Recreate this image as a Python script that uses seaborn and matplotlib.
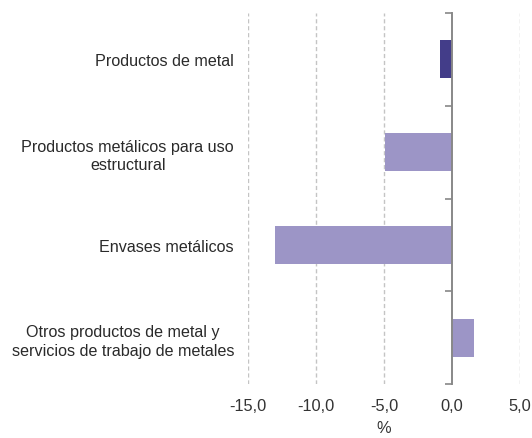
import matplotlib
matplotlib.use("Agg")
import matplotlib.pyplot as plt
import seaborn as sns
import pandas as pd
from matplotlib.ticker import FuncFormatter, FixedLocator

categories = [
    "Productos de metal",
    "Productos metálicos para uso\nestructural",
    "Envases metálicos",
    "Otros productos de metal y\nservicios de trabajo de metales",
]
values = [-0.9, -4.9, -13.0, 1.6]
bar_colors = ["#433D89", "#9C95C6", "#9C95C6", "#9C95C6"]
xticks = [-15, -10, -5, 0, 5]

sns.set_theme(style="white")
plt.rcParams["font.family"] = ["Liberation Sans", "DejaVu Sans"]

df = pd.DataFrame({"cat": categories, "val": values})

fig = plt.figure(figsize=(5.32, 4.39), dpi=100)
ax = fig.add_axes([248 / 532, 1 - 385 / 439, (520 - 248) / 532, (385 - 14) / 439])

sns.barplot(data=df, y="cat", x="val", hue="cat", palette=bar_colors,
            orient="h", width=0.41, legend=False, ax=ax, saturation=1,
            edgecolor="none")

ax.set_xlim(-15, 5)
ax.set_ylim(3.5, -0.5)
ax.set_xticks(xticks)
ax.xaxis.set_major_formatter(FuncFormatter(lambda v, p: f"{v:.1f}".replace(".", ",")))
ax.tick_params(axis="x", length=0, labelsize=11.8, labelcolor="#333333", pad=10)
ax.tick_params(axis="y", length=0, labelsize=11.6, labelcolor="#2a2a2a", pad=10)
for lbl in ax.get_yticklabels():
    lbl.set_linespacing(1.3)
    lbl.set_multialignment("center")
ax.set_xlabel("%", fontsize=11.8, color="#333333", labelpad=5)
ax.set_ylabel("")

for s in ax.spines.values():
    s.set_visible(False)

for t in [-15, -10, -5, 5]:
    ax.axvline(t, color="#c4c4c4", linestyle=(0, (3, 2)), linewidth=1, zorder=0)

sec = ax.secondary_yaxis(0.75)
sec.set_zorder(5)
sec.yaxis.set_major_locator(FixedLocator([-0.5, 0.5, 1.5, 2.5, 3.5]))
sec.set_yticklabels([""] * 5)
sec.tick_params(axis="y", length=5, width=1.2, color="#888888", direction="in")
for s in sec.spines.values():
    s.set_color("#888888")
    s.set_linewidth(1.4)

fig.savefig("out.png", dpi=100)
